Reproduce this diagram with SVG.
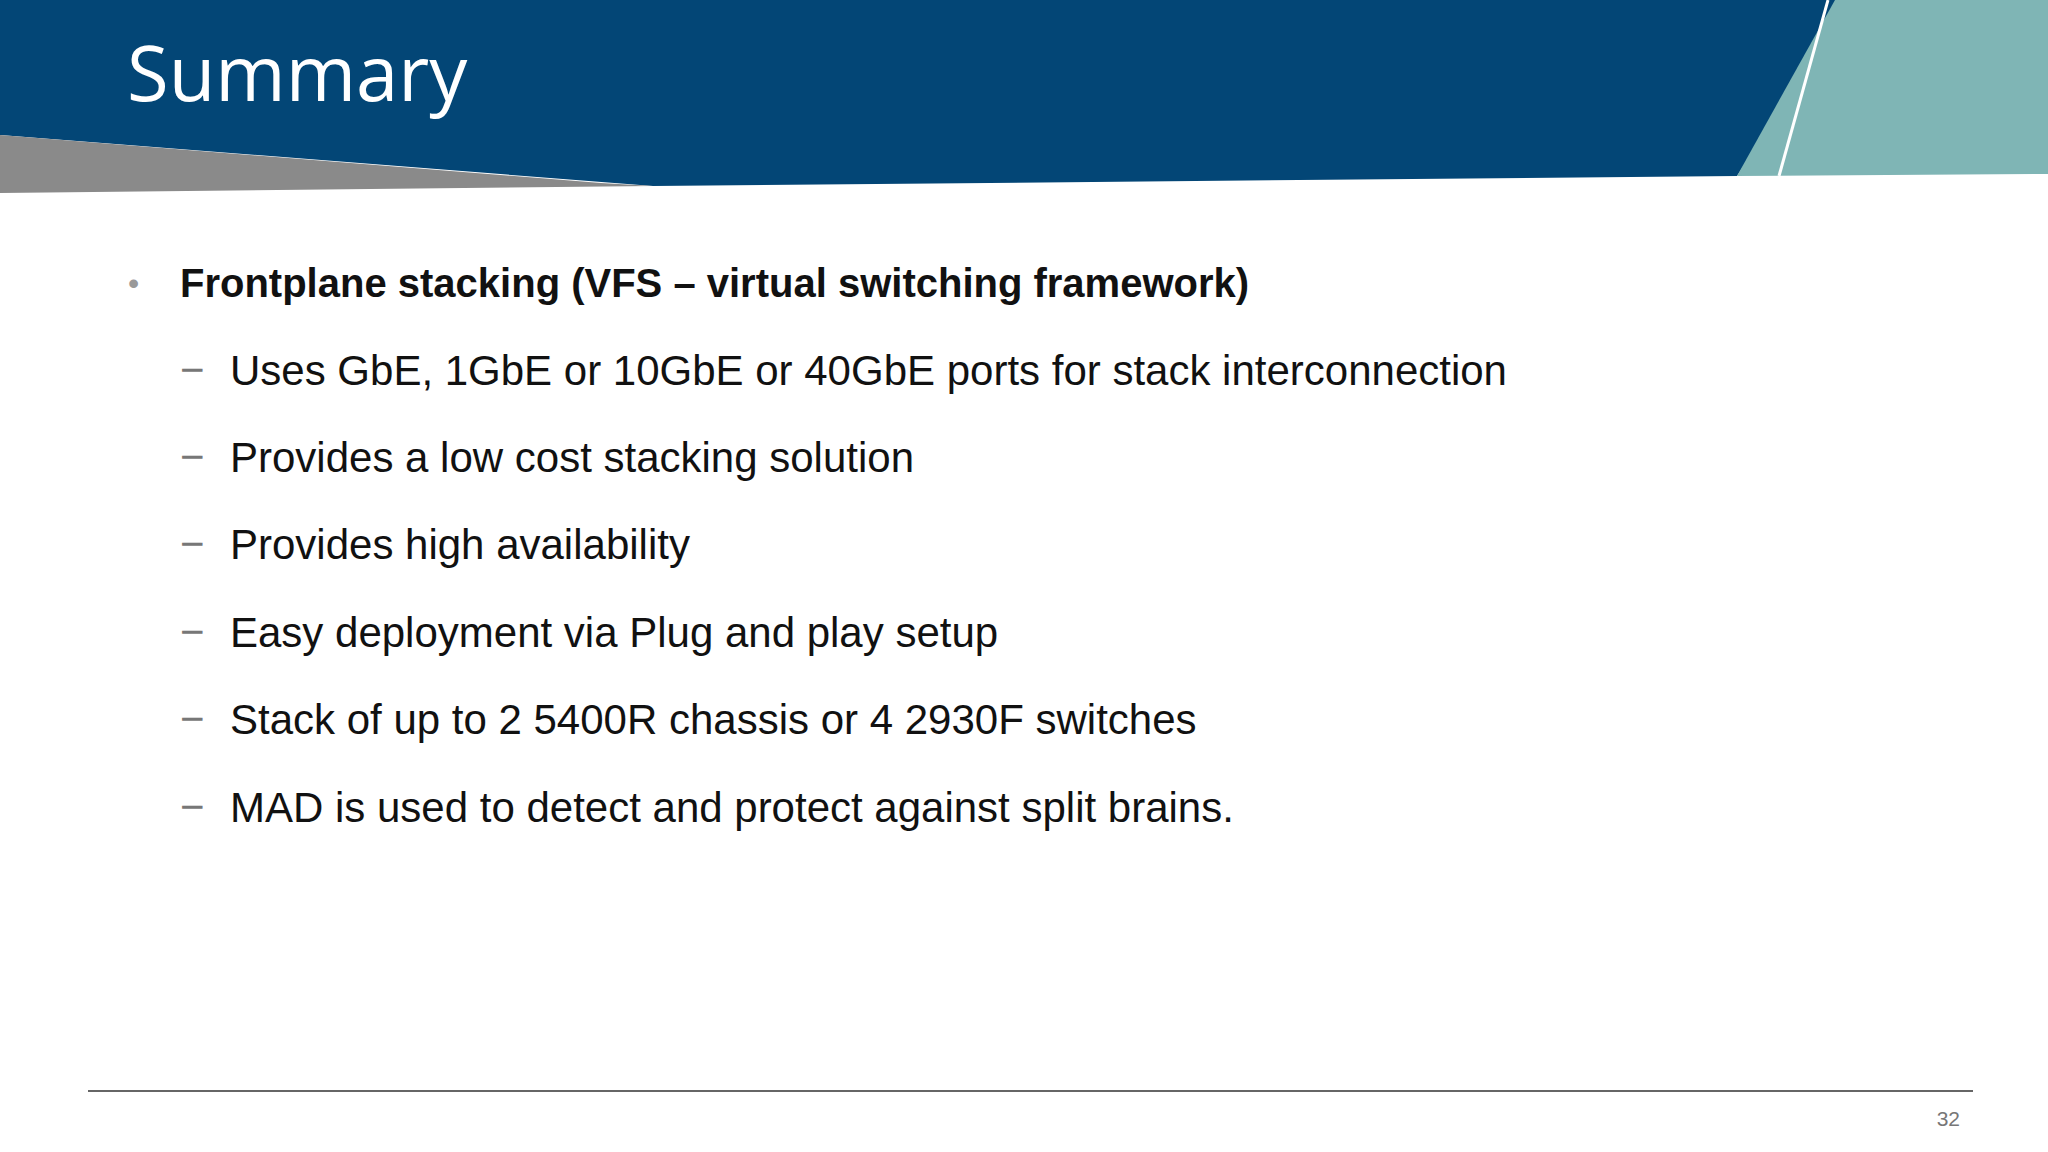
<svg xmlns="http://www.w3.org/2000/svg" width="2048" height="1152" viewBox="0 0 2048 1152">
<style>
.sub{font-family:"Liberation Sans",Arial,sans-serif;font-size:42px;fill:#111}
.dash{font-family:"Liberation Sans",Arial,sans-serif;font-size:42px;fill:#777}
</style>
<rect width="2048" height="1152" fill="#fff"/>
<g id="header">
<polygon points="0,0 1850,0 1737,176 653,186 0,135" fill="#034676"/>
<polygon points="0,135 601,183 653,186 0,193" fill="#8a8a8a"/>
<polygon points="1835,0 2048,0 2048,174 1737,176" fill="#7fb5b5"/>
<line x1="1828" y1="0" x2="1779" y2="176" stroke="#fff" stroke-width="3"/>
<text x="127" y="101" font-family="'Open Sans',sans-serif" font-size="76" fill="#fff">Summary</text>
</g>
<g id="bullets">
<text x="128" y="294" font-family="'Liberation Sans',sans-serif" font-size="32" fill="#999">•</text>
<text x="180" y="297" font-family="'Liberation Sans',Arial,sans-serif" font-size="40" font-weight="bold" fill="#111">Frontplane stacking (VFS – virtual switching framework)</text>
<text class="dash" x="180" y="384">−</text><text class="sub" x="230" y="385">Uses GbE, 1GbE or 10GbE or 40GbE ports for stack interconnection</text>
<text class="dash" x="180" y="471">−</text><text class="sub" x="230" y="472">Provides a low cost stacking solution</text>
<text class="dash" x="180" y="558">−</text><text class="sub" x="230" y="559">Provides high availability</text>
<text class="dash" x="180" y="646">−</text><text class="sub" x="230" y="647">Easy deployment via Plug and play setup</text>
<text class="dash" x="180" y="733">−</text><text class="sub" x="230" y="734">Stack of up to 2 5400R chassis or 4 2930F switches</text>
<text class="dash" x="180" y="821">−</text><text class="sub" x="230" y="822">MAD is used to detect and protect against split brains.</text>
</g>
<g id="footer">
<line x1="88" y1="1091" x2="1973" y2="1091" stroke="#666" stroke-width="2"/>
<text x="1960" y="1126" text-anchor="end" font-family="'Liberation Sans',sans-serif" font-size="21" fill="#777">32</text>
</g>
</svg>
